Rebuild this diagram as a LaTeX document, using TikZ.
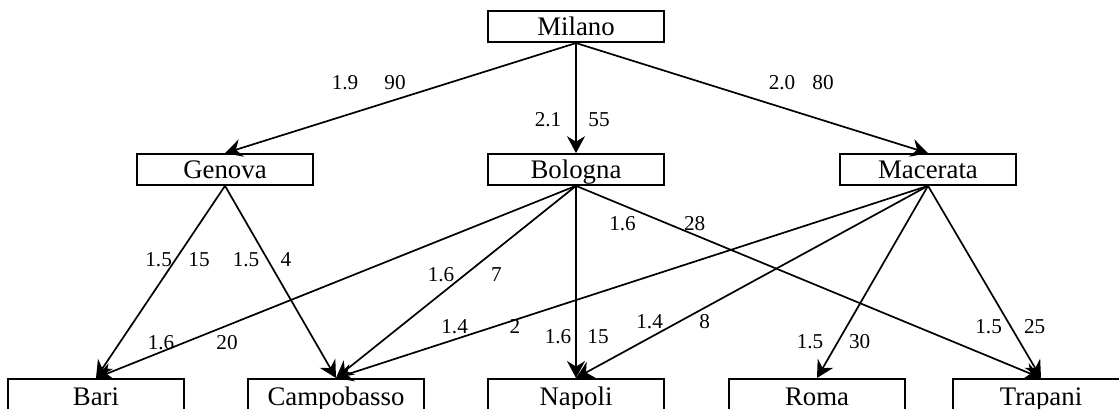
\documentclass[tikz,border=0pt]{standalone}
\usepackage{fontspec}
\setmainfont{Liberation Serif}
\usetikzlibrary{arrows.meta}
\begin{document}
\begin{tikzpicture}[x=0.5pt,y=-0.5pt,
 city/.style={draw,line width=0.85pt,minimum width=88pt,minimum height=15.5pt,inner sep=0pt,
   font=\fontsize{13.4pt}{16pt}\selectfont,text height=8.8pt,text depth=0pt},
 lowcity/.style={city,minimum height=17.5pt,anchor=north},
 lab/.style={inner sep=0pt,font=\fontsize{10.6pt}{12pt}\selectfont,text height=7.1pt,text depth=0pt},
 arc/.style={line width=0.85pt,-{Stealth[length=8.5pt,width=9pt,inset=2.8pt]}}]
\useasboundingbox (0,0) rectangle (1119,408);
% nodes
\node[city] (milano) at (576,26.7) {Milano};
\node[city] (genova) at (225,169.5) {Genova};
\node[city] (bologna) at (576,169.5) {Bologna};
\node[city] (macerata) at (928,169.5) {Macerata};
\node[lowcity] (bari) at (96,378) {Bari};
\node[lowcity] (campobasso) at (336,378) {Campobasso};
\node[lowcity] (napoli) at (576,378) {Napoli};
\node[lowcity] (roma) at (817,378) {Roma};
\node[lowcity] (trapani) at (1041,378) {Trapani};
% edges
\draw[arc] (milano.south) -- (genova.north);
\draw[arc] (milano.south) -- (bologna.north);
\draw[arc] (milano.south) -- (macerata.north);
\draw[arc] (genova.south) -- (bari.north);
\draw[arc] (genova.south) -- (campobasso.north);
\draw[arc] (bologna.south) -- (bari.north);
\draw[arc] (bologna.south) -- (campobasso.north);
\draw[arc] (bologna.south) -- (napoli.north);
\draw[arc] (bologna.south) -- (trapani.north);
\draw[arc] (macerata.south) -- (campobasso.north);
\draw[arc] (macerata.south) -- (napoli.north);
\draw[arc] (macerata.south) -- (roma.north);
\draw[arc] (macerata.south) -- (trapani.north);
% labels
\node[lab] (l1) at (345,82.5) {1.9};
\node[lab] (l2) at (395,82.5) {90};
\node[lab] (l3) at (548,119.5) {2.1};
\node[lab] (l4) at (599,119.5) {55};
\node[lab] (l5) at (782,82.5) {2.0};
\node[lab] (l6) at (823,82.5) {80};
\node[lab] (l7) at (158.6,259) {1.5};
\node[lab] (l8) at (199,259) {15};
\node[lab] (l9) at (246,259) {1.5};
\node[lab] (l10) at (286,259) {4};
\node[lab] (l11) at (441,274) {1.6};
\node[lab] (l12) at (496.4,274) {7};
\node[lab] (l13) at (454.6,326) {1.4};
\node[lab] (l14) at (515,326) {2};
\node[lab] (l15) at (161,342) {1.6};
\node[lab] (l16) at (227,342) {20};
\node[lab] (l17) at (558,336) {1.6};
\node[lab] (l18) at (598,336) {15};
\node[lab] (l19) at (622.5,223.7) {1.6};
\node[lab] (l20) at (694.6,223.7) {28};
\node[lab] (l21) at (649.6,321) {1.4};
\node[lab] (l22) at (704.6,321) {8};
\node[lab] (l23) at (810,341) {1.5};
\node[lab] (l24) at (859.6,341) {30};
\node[lab] (l25) at (988.6,326) {1.5};
\node[lab] (l26) at (1034.6,326) {25};
\end{tikzpicture}
\end{document}
